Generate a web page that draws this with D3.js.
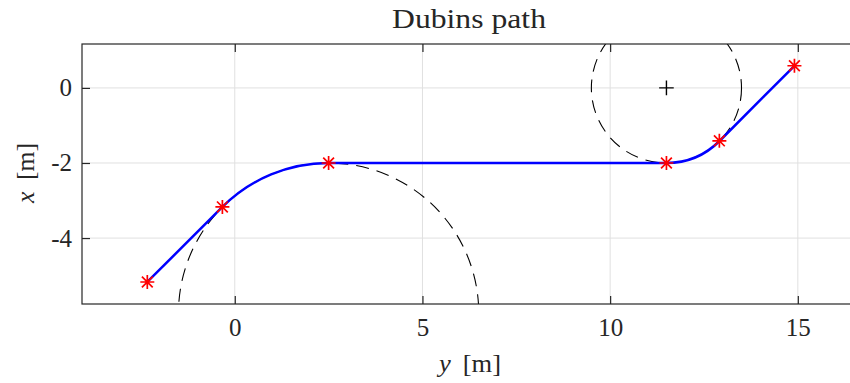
<!DOCTYPE html>
<html>
<head>
<meta charset="utf-8">
<script src="https://cdn.jsdelivr.net/npm/d3@7"></script>
<style>
  html, body { margin: 0; padding: 0; background: #fff; }
  svg { display: block; }
  .lbl { font-family: 'Liberation Serif', serif; fill: #262626; }
</style>
</head>
<body>
<svg id="chart" width="850" height="383"></svg>
<script>
// Waypoints of the Dubins path (horizontal axis is y, vertical axis is x)
const waypointY = [-2.33, -0.33, 2.5, 11.5, 12.91, 14.91];
const waypointX = [-5.17, -3.17, -2.0, -2.0, -1.41, 0.59];

// Turning circles: centres, radii and turn direction (R = clockwise, L = counter-clockwise)
const circleY = [2.5, 11.5];
const circleX = [-6.0, 0.0];
const circleR = [4, 2];
const turnDir = ["R", "L"];

// Path segments between consecutive waypoints
const segmentKind = ["line", "arc", "line", "arc", "line"];
const segmentCircle = [null, 0, null, 1, null];

// Axis ticks
const yTicks = [0, 5, 10, 15];
const xTicks = [0, -2, -4];

const svg = d3.select("#chart");
const boxLeft = 82, boxRight = 856, boxTop = 44, boxBottom = 304;
const hDomain = [-4.07, 16.55];
const unit = (boxRight - boxLeft) / (hDomain[1] - hDomain[0]);
const vTop = 1.17;
const vDomain = [vTop - (boxBottom - boxTop) / unit, vTop];

const sx = d3.scaleLinear().domain(hDomain).range([boxLeft, boxRight]);
const sy = d3.scaleLinear().domain(vDomain).range([boxBottom, boxTop]);

svg.append("defs").append("clipPath").attr("id", "plotclip")
  .append("rect").attr("x", boxLeft).attr("y", boxTop)
  .attr("width", boxRight - boxLeft).attr("height", boxBottom - boxTop);

// Grid
const grid = svg.append("g");
grid.selectAll("line.gv").data(yTicks).join("line")
  .attr("x1", d => sx(d)).attr("x2", d => sx(d))
  .attr("y1", boxTop).attr("y2", boxBottom)
  .attr("stroke", "#e0e0e0").attr("stroke-width", 1);
grid.selectAll("line.gh").data(xTicks).join("line")
  .attr("x1", boxLeft).attr("x2", boxRight)
  .attr("y1", d => sy(d)).attr("y2", d => sy(d))
  .attr("stroke", "#e0e0e0").attr("stroke-width", 1);

const plot = svg.append("g").attr("clip-path", "url(#plotclip)");

// Dashed turning circles
plot.selectAll("circle.turn").data(circleR).join("circle")
  .attr("cx", (d, i) => sx(circleY[i]))
  .attr("cy", (d, i) => sy(circleX[i]))
  .attr("r", d => sx(d) - sx(0))
  .attr("fill", "none").attr("stroke", "#000")
  .attr("stroke-width", 1.1).attr("stroke-dasharray", "13,8");

// Dubins path
const p = d3.path();
p.moveTo(sx(waypointY[0]), sy(waypointX[0]));
segmentKind.forEach((kind, i) => {
  const ex = sx(waypointY[i + 1]), ey = sy(waypointX[i + 1]);
  if (kind === "line") {
    p.lineTo(ex, ey);
  } else {
    const c = segmentCircle[i];
    const cx = sx(circleY[c]), cy = sy(circleX[c]);
    const r = sx(circleR[c]) - sx(0);
    const px0 = sx(waypointY[i]), py0 = sy(waypointX[i]);
    const a0 = Math.atan2(py0 - cy, px0 - cx);
    const a1 = Math.atan2(ey - cy, ex - cx);
    // screen y points down, so a clockwise turn in data is increasing screen angle
    p.arc(cx, cy, r, a0, a1, turnDir[c] === "L");
  }
});
plot.append("path").attr("d", p.toString())
  .attr("fill", "none").attr("stroke", "#0000ff").attr("stroke-width", 2.5)
  .attr("stroke-linejoin", "round");

// Waypoint markers (asterisks)
const s = 7, sd = 5.4;
const starPath = `M${-s},0L${s},0M0,${-s}L0,${s}M${-sd},${-sd}L${sd},${sd}M${-sd},${sd}L${sd},${-sd}`;
plot.selectAll("path.star").data(waypointY).join("path")
  .attr("transform", (d, i) => `translate(${sx(d)},${sy(waypointX[i])})`)
  .attr("d", starPath)
  .attr("fill", "none").attr("stroke", "#ff0000").attr("stroke-width", 1.7);

// Centre of the final turning circle
const pl = 7.3;
plot.append("path")
  .attr("transform", `translate(${sx(circleY[1])},${sy(circleX[1])})`)
  .attr("d", `M${-pl},0L${pl},0M0,${-pl}L0,${pl}`)
  .attr("stroke", "#000").attr("stroke-width", 1.4);

// Axes box and ticks
const axisColor = "#262626";
const tickLen = 8;
svg.append("rect").attr("x", boxLeft).attr("y", boxTop)
  .attr("width", boxRight - boxLeft).attr("height", boxBottom - boxTop)
  .attr("fill", "none").attr("stroke", axisColor).attr("stroke-width", 1.2);

const fmt = d => String(d);
const bottomAxis = d3.axisBottom(sx).tickValues(yTicks).tickFormat(fmt).tickSizeInner(-tickLen).tickSizeOuter(0).tickPadding(14);
const topAxis = d3.axisTop(sx).tickValues(yTicks).tickSizeInner(-tickLen).tickSizeOuter(0).tickFormat("");
const leftAxis = d3.axisLeft(sy).tickValues(xTicks).tickFormat(fmt).tickSizeInner(-tickLen).tickSizeOuter(0).tickPadding(10);

function styleAxis(g) {
  g.attr("font-family", "'Liberation Serif', serif").attr("font-size", 25);
  g.select(".domain").remove();
  g.selectAll(".tick line").attr("stroke", axisColor).attr("stroke-width", 1.2);
  g.selectAll(".tick text").attr("class", "lbl")
    .style("font-family", "'Liberation Serif', serif")
    .attr("font-size", 25).attr("fill", axisColor);
}
svg.append("g").attr("transform", `translate(0,${boxBottom})`).call(bottomAxis).call(styleAxis);
svg.append("g").attr("transform", `translate(0,${boxTop})`).call(topAxis).call(styleAxis);
svg.append("g").attr("transform", `translate(${boxLeft},0)`).call(leftAxis).call(styleAxis);

// Title and axis labels
svg.append("text").attr("class", "lbl")
  .attr("x", 469).attr("y", 28).attr("text-anchor", "middle")
  .attr("font-size", 27).attr("textLength", 154).attr("lengthAdjust", "spacingAndGlyphs")
  .text("Dubins path");

const xl = svg.append("text").attr("class", "lbl")
  .attr("x", 470).attr("y", 372).attr("text-anchor", "middle")
  .attr("font-size", 26).attr("textLength", 62).attr("lengthAdjust", "spacingAndGlyphs");
xl.append("tspan").attr("font-style", "italic").text("y");
xl.append("tspan").text("\u2009 [m]");

const yl = svg.append("text").attr("class", "lbl")
  .attr("transform", "translate(34,173) rotate(-90)")
  .attr("text-anchor", "middle")
  .attr("font-size", 26).attr("textLength", 60).attr("lengthAdjust", "spacingAndGlyphs");
yl.append("tspan").attr("font-style", "italic").text("x");
yl.append("tspan").text("\u2009 [m]");
</script>
</body>
</html>
